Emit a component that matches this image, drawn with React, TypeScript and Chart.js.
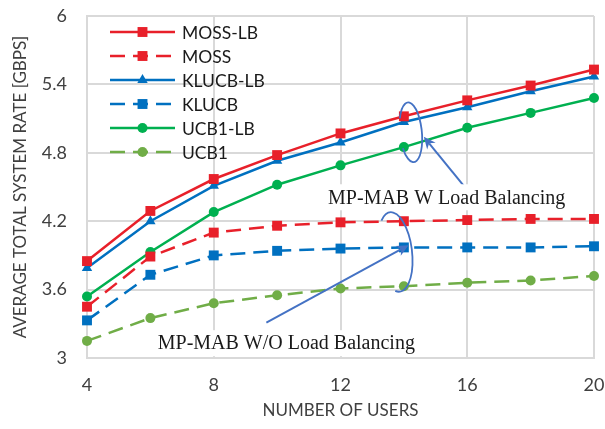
import React, { useEffect, useRef } from "react";
import { Chart, registerables } from "chart.js";

Chart.register(...registerables);

// ---- data ----
const users = [4, 6, 8, 10, 12, 14, 16, 18, 20];
const mossLB = [3.85, 4.29, 4.57, 4.78, 4.97, 5.12, 5.26, 5.39, 5.53];
const moss = [3.45, 3.89, 4.1, 4.16, 4.19, 4.2, 4.21, 4.22, 4.22];
const klucbLB = [3.79, 4.2, 4.51, 4.73, 4.89, 5.07, 5.2, 5.34, 5.47];
const klucb = [3.33, 3.73, 3.9, 3.94, 3.96, 3.97, 3.97, 3.97, 3.98];
const ucb1LB = [3.54, 3.93, 4.28, 4.52, 4.69, 4.85, 5.02, 5.15, 5.28];
const ucb1 = [3.15, 3.35, 3.48, 3.55, 3.61, 3.63, 3.66, 3.68, 3.72];
const seriesNames = ["MOSS-LB", "MOSS", "KLUCB-LB", "KLUCB", "UCB1-LB", "UCB1"];
const xTicks = [4, 8, 12, 16, 20];
const yTicks = [3, 3.6, 4.2, 4.8, 5.4, 6];
const xTitle = "NUMBER OF USERS";
const yTitle = "AVERAGE TOTAL SYSTEM RATE [GBPS]";
const noteWith = "MP-MAB W Load Balancing";
const noteWithout = "MP-MAB W/O Load Balancing";

const RED = "#E8202A";
const BLUE = "#0070C0";
const GREEN = "#00B050";
const LGREEN = "#70AD47";
const ANN = "#4472C4";
const DASH = [15, 8];

function drawMarker(ctx: CanvasRenderingContext2D, style: string, x: number, y: number, r: number, color: string) {
  ctx.save();
  ctx.fillStyle = color;
  ctx.beginPath();
  if (style === "rect") {
    const s = r * Math.SQRT1_2;
    ctx.rect(x - s, y - s, 2 * s, 2 * s);
  } else if (style === "triangle") {
    ctx.moveTo(x, y - r);
    ctx.lineTo(x + 0.866 * r, y + 0.5 * r);
    ctx.lineTo(x - 0.866 * r, y + 0.5 * r);
    ctx.closePath();
  } else {
    ctx.arc(x, y, r, 0, Math.PI * 2);
  }
  ctx.fill();
  ctx.restore();
}

const legendPlugin = {
  id: "customLegend",
  afterDraw(chart: any) {
    const ctx: CanvasRenderingContext2D = chart.ctx;
    const area = chart.chartArea;
    const x0 = area.left + 23;
    const x1 = area.left + 88;
    chart.data.datasets.forEach((ds: any, i: number) => {
      const y = area.top + 16 + i * 24;
      ctx.save();
      ctx.strokeStyle = ds.borderColor;
      ctx.lineWidth = ds.borderWidth;
      ctx.setLineDash(ds.borderDash || []);
      ctx.beginPath();
      ctx.moveTo(x0, y);
      ctx.lineTo(x1, y);
      ctx.stroke();
      ctx.restore();
      drawMarker(ctx, ds.pointStyle, (x0 + x1) / 2, y, ds.pointRadius, ds.pointBackgroundColor);
      ctx.save();
      ctx.fillStyle = "#1a1a1a";
      ctx.font = "17.5px Lato";
      ctx.textBaseline = "middle";
      ctx.fillText(ds.label, x1 + 7, y + 1);
      ctx.restore();
    });
  },
};

function arrow(ctx: CanvasRenderingContext2D, x1: number, y1: number, x2: number, y2: number) {
  const ang = Math.atan2(y2 - y1, x2 - x1);
  const hl = 12;
  const hw = 5.5;
  ctx.save();
  ctx.strokeStyle = ANN;
  ctx.fillStyle = ANN;
  ctx.lineWidth = 2;
  ctx.beginPath();
  ctx.moveTo(x1, y1);
  ctx.lineTo(x2 - Math.cos(ang) * hl * 0.7, y2 - Math.sin(ang) * hl * 0.7);
  ctx.stroke();
  ctx.beginPath();
  ctx.moveTo(x2, y2);
  ctx.lineTo(x2 - hl * Math.cos(ang) + hw * Math.sin(ang), y2 - hl * Math.sin(ang) - hw * Math.cos(ang));
  ctx.lineTo(x2 - hl * 0.7 * Math.cos(ang), y2 - hl * 0.7 * Math.sin(ang));
  ctx.lineTo(x2 - hl * Math.cos(ang) - hw * Math.sin(ang), y2 - hl * Math.sin(ang) + hw * Math.cos(ang));
  ctx.closePath();
  ctx.fill();
  ctx.restore();
}

function label(ctx: CanvasRenderingContext2D, text: string, cx: number, cy: number) {
  ctx.save();
  ctx.font = "20px 'Liberation Serif'";
  const w = ctx.measureText(text).width;
  ctx.fillStyle = "#ffffff";
  ctx.fillRect(cx - w / 2 - 3, cy - 13, w + 6, 26);
  ctx.fillStyle = "#1a1a1a";
  ctx.textAlign = "center";
  ctx.textBaseline = "middle";
  ctx.fillText(text, cx, cy + 1);
  ctx.restore();
}

const annotationPlugin = {
  id: "annotations",
  afterDraw(chart: any) {
    const ctx: CanvasRenderingContext2D = chart.ctx;
    const { x, y } = chart.scales;
    const px = (v: number) => x.getPixelForValue(v);
    const py = (v: number) => y.getPixelForValue(v);
    const deg = Math.PI / 180;
    // ellipses
    ctx.save();
    ctx.strokeStyle = ANN;
    ctx.lineWidth = 1.8;
    ctx.beginPath();
    ctx.ellipse(px(14.22), py(4.98), 11, 30, -0.1, -150 * deg, 150 * deg);
    ctx.stroke();
    ctx.beginPath();
    ctx.ellipse(px(13.72), py(3.93), 17, 40, -0.12, -125 * deg, 105 * deg);
    ctx.stroke();
    ctx.restore();
    // arrows
    arrow(ctx, px(15.95), py(4.49), px(14.63), py(4.94));
    arrow(ctx, px(9.66), py(3.31), px(14.15), py(3.99));
    // labels
    label(ctx, noteWith, px(15.35), py(4.41));
    label(ctx, noteWithout, px(10.29), py(3.13));
  },
};

export default function App() {
  const ref = useRef<HTMLCanvasElement | null>(null);
  useEffect(() => {
    if (!ref.current) return;
    const mk = (
      name: string,
      vals: number[],
      color: string,
      dashed: boolean,
      style: string,
      r: number
    ) => ({
      label: name,
      data: users.map((u, i) => ({ x: u, y: vals[i] })),
      borderColor: color,
      backgroundColor: color,
      pointBackgroundColor: color,
      pointBorderColor: color,
      pointBorderWidth: 0,
      borderWidth: 2.5,
      borderDash: dashed ? DASH : [],
      pointStyle: style,
      pointRadius: r,
      tension: 0,
      clip: false,
    });
    const chart = new Chart(ref.current, {
      type: "line",
      data: {
        datasets: [
          mk(seriesNames[0], mossLB, RED, false, "rect", 7),
          mk(seriesNames[1], moss, RED, true, "rect", 7),
          mk(seriesNames[2], klucbLB, BLUE, false, "triangle", 6),
          mk(seriesNames[3], klucb, BLUE, true, "rect", 7),
          mk(seriesNames[4], ucb1LB, GREEN, false, "circle", 5),
          mk(seriesNames[5], ucb1, LGREEN, true, "circle", 5),
        ] as any,
      },
      options: {
        animation: false,
        responsive: false,
        layout: { autoPadding: false, padding: { top: 16, right: 11, left: 0, bottom: 0 } },
        plugins: { legend: { display: false }, tooltip: { enabled: false } },
        scales: {
          x: {
            type: "linear",
            min: 4,
            max: 20,
            afterBuildTicks: (s: any) => {
              s.ticks = xTicks.map((v) => ({ value: v }));
            },
            afterFit: (s: any) => {
              s.height = 71;
              s.paddingLeft = 0;
              s.paddingRight = 0;
            },
            ticks: { padding: 16, color: "#404040", font: { family: "Lato", size: 18 } },
            grid: { color: "#d9d9d9", lineWidth: 2, drawTicks: false },
            border: { color: "#d9d9d9", width: 2 },
            title: {
              display: true,
              text: xTitle,
              color: "#404040",
              font: { family: "Lato", size: 17 },
              padding: { top: 0, bottom: 8 },
            },
          },
          y: {
            type: "linear",
            min: 3,
            max: 6,
            afterBuildTicks: (s: any) => {
              s.ticks = yTicks.map((v) => ({ value: v }));
            },
            afterFit: (s: any) => {
              s.width = 87;
              s.paddingTop = 0;
              s.paddingBottom = 0;
            },
            ticks: {
              padding: 20,
              color: "#404040",
              font: { family: "Lato", size: 18 },
              callback: (v: any) => String(Math.round(Number(v) * 10) / 10),
            },
            grid: { color: "#d9d9d9", lineWidth: 2, drawTicks: false },
            border: { color: "#d9d9d9", width: 2 },
            title: {
              display: true,
              text: yTitle,
              color: "#404040",
              font: { family: "Lato", size: 17 },
              padding: { top: 10, bottom: 0 },
            },
          },
        },
      } as any,
      plugins: [legendPlugin, annotationPlugin],
    });
    return () => chart.destroy();
  }, []);
  return (
    <div style={{ position: "absolute", left: 0, top: 0, width: 605, height: 429, background: "#fff" }}>
      <canvas ref={ref} width={605} height={429} />
    </div>
  );
}
